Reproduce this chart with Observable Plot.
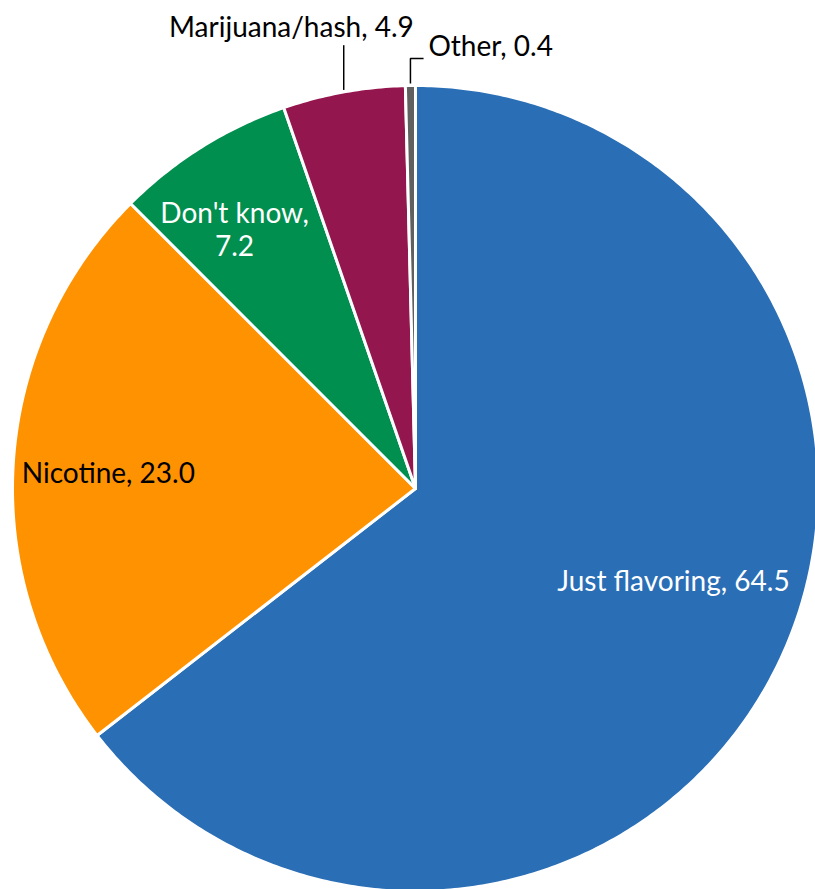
<!DOCTYPE html>
<html>
<head>
<meta charset="utf-8">
<script src="https://cdn.jsdelivr.net/npm/d3@7"></script>
<script src="https://cdn.jsdelivr.net/npm/@observablehq/plot@0.6"></script>
<style>
  html, body { margin: 0; padding: 0; background: #fff; overflow: hidden; }
</style>
</head>
<body>
<div id="chart"></div>
<script>
// ---- data ----
const categories = ["Just flavoring", "Nicotine", "Don't know", "Marijuana/hash", "Other"];
const values = [64.5, 23.0, 7.2, 4.9, 0.4];
const colors = ["#2a6eb6", "#ff9200", "#008f4f", "#93174e", "#606060"];
const labelTexts = ["Just flavoring, 64.5", "Nicotine, 23.0", "Don't know,\n7.2", "Marijuana/hash, 4.9", "Other, 0.4"];
const labelColors = ["white", "black", "white", "black", "black"];

// ---- layout (unit circle coordinates) ----
const labelPos = [
  {x: 0.640, y: -0.228, anchor: "middle"},
  {x: -0.977, y: 0.040, anchor: "start"},
  {x: -0.449, y: 0.645, anchor: "middle"},
  {x: -0.308, y: 1.146, anchor: "middle"},
  {x: 0.032, y: 1.101, anchor: "start"}
];

const arcs = d3.pie().sort(null).value(d => d)(values);

// wedge polygons
const wedgePts = [];
arcs.forEach((a, i) => {
  const key = categories[i];
  wedgePts.push({key, x: 0, y: 0});
  const n = Math.max(2, Math.ceil((a.endAngle - a.startAngle) / 0.01));
  for (let k = 0; k <= n; k++) {
    const t = a.startAngle + (a.endAngle - a.startAngle) * k / n;
    wedgePts.push({key, x: Math.sin(t), y: Math.cos(t)});
  }
});

// leader lines for Marijuana/hash and Other
const leaderPts = [];
{
  const m = arcs[3], o = arcs[4];
  const am = (m.startAngle + m.endAngle) / 2;
  leaderPts.push({k: "m", x: Math.sin(am), y: Math.cos(am) + 0.005});
  leaderPts.push({k: "m", x: Math.sin(am), y: 1.100});
  const ao = (o.startAngle + o.endAngle) / 2;
  leaderPts.push({k: "o", x: Math.sin(ao), y: Math.cos(ao) + 0.005});
  leaderPts.push({k: "o", x: Math.sin(ao), y: 1.067});
  leaderPts.push({k: "o", x: 0.020, y: 1.067});
}

const labels = categories.map((c, i) => ({
  text: labelTexts[i], fill: labelColors[i], ...labelPos[i]
}));

const chart = Plot.plot({
  width: 815,
  height: 889,
  margin: 0,
  x: {domain: [-1, 1], range: [12, 818], axis: null},
  y: {domain: [-1, 1], range: [891, 85], axis: null},
  color: {domain: categories, range: colors},
  marks: [
    Plot.line(wedgePts, {
      x: "x", y: "y", z: "key", fill: "key",
      stroke: "white", strokeWidth: 3, curve: "linear-closed",
      strokeLinejoin: "round"
    }),
    Plot.line(leaderPts, {x: "x", y: "y", z: "k", stroke: "black", strokeWidth: 1.5, strokeLinejoin: "miter", strokeLinecap: "butt"}),
    ...["start", "middle"].map(anc => Plot.text(labels.filter(d => d.anchor === anc), {
      x: "x", y: "y", text: "text", fill: "fill",
      textAnchor: anc, lineAnchor: "middle", lineHeight: 1.2,
      fontFamily: "Lato, 'Open Sans', sans-serif", fontSize: 28
    }))
  ]
});
document.getElementById("chart").appendChild(chart);
</script>
</body>
</html>
